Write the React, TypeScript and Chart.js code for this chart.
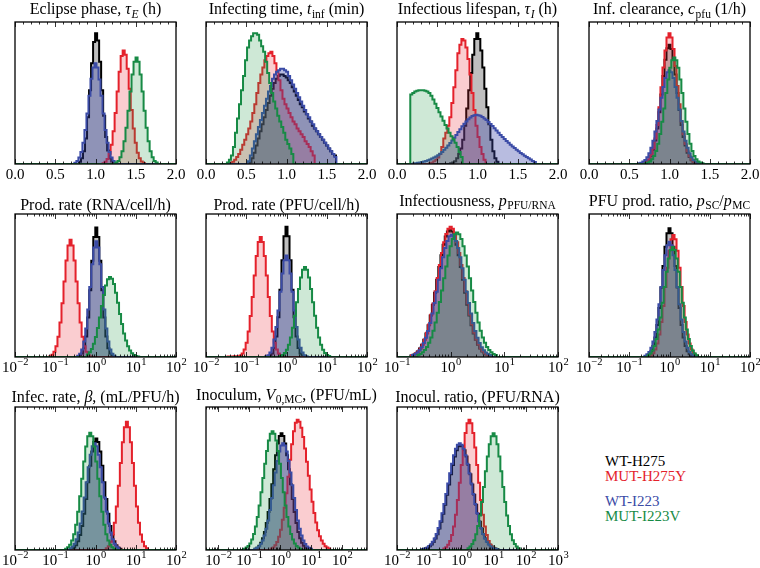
import React, { useEffect, useRef } from 'react';
import { Chart, registerables } from 'chart.js';
Chart.register(...registerables);

// ---------- series ----------
const SERIES = ['WT-H275', 'MUT-H275Y', 'WT-I223', 'MUT-I223V'];
const LINE_COLORS = ['#000000', '#e4212b', '#3b4ba6', '#178a45'];
const FILL_COLORS = ['rgba(0,0,0,0.25)', 'rgba(236,48,58,0.24)', 'rgba(58,70,168,0.36)', 'rgba(30,150,70,0.22)'];

// ---------- data (bin start per series, bin heights relative to panel height) ----------
// Eclipse phase (h), bins 0.025
const tauEStart = [0.795, 1.0875, 0.7375, 1.2475];
const tauE_WT275 = [0.015, 0.04, 0.09, 0.18, 0.33, 0.52, 0.71, 0.86, 0.92, 0.87, 0.72, 0.52, 0.34, 0.19, 0.095, 0.04, 0.017];
const tauE_MUT275 = [0.006, 0.015, 0.035, 0.072, 0.135, 0.23, 0.36, 0.51, 0.65, 0.76, 0.8, 0.77, 0.67, 0.53, 0.38, 0.25, 0.15, 0.08, 0.04, 0.018, 0.007];
const tauE_WT223 = [0.009, 0.021, 0.045, 0.085, 0.15, 0.24, 0.355, 0.48, 0.6, 0.68, 0.71, 0.68, 0.595, 0.48, 0.355, 0.24, 0.15, 0.085, 0.045, 0.021, 0.009];
const tauE_MUT223 = [0.01, 0.022, 0.047, 0.09, 0.16, 0.255, 0.375, 0.51, 0.63, 0.72, 0.75, 0.72, 0.63, 0.51, 0.375, 0.255, 0.16, 0.09, 0.047, 0.022, 0.01];

// Infecting time (min), bins 0.025
const tInfStart = [0.54, 0.3, 0.52, 0.26];
const tInf_WT275 = [0.01, 0.04, 0.08, 0.13, 0.18, 0.23, 0.28, 0.33, 0.38, 0.43, 0.48, 0.53, 0.57, 0.6, 0.62, 0.63, 0.63, 0.62, 0.61, 0.59, 0.57, 0.54, 0.51, 0.48, 0.45, 0.42, 0.4, 0.37, 0.35, 0.32, 0.3, 0.27, 0.25, 0.23, 0.21, 0.19, 0.17, 0.15, 0.13, 0.11, 0.09, 0.07, 0.06];
const tInf_MUT275 = [0.005, 0.015, 0.03, 0.05, 0.07, 0.1, 0.135, 0.17, 0.21, 0.25, 0.3, 0.36, 0.42, 0.5, 0.57, 0.63, 0.68, 0.73, 0.76, 0.78, 0.79, 0.76, 0.71, 0.65, 0.59, 0.52, 0.46, 0.42, 0.39, 0.36, 0.33, 0.3, 0.28, 0.25, 0.23, 0.21, 0.19, 0.16, 0.14, 0.12, 0.09, 0.06];
const tInf_WT223 = [0.02, 0.06, 0.11, 0.16, 0.21, 0.26, 0.31, 0.36, 0.41, 0.46, 0.51, 0.55, 0.6, 0.63, 0.65, 0.66, 0.67, 0.67, 0.66, 0.65, 0.62, 0.59, 0.56, 0.53, 0.5, 0.47, 0.44, 0.41, 0.38, 0.35, 0.33, 0.3, 0.28, 0.25, 0.23, 0.21, 0.19, 0.17, 0.15, 0.13, 0.11, 0.09, 0.07, 0.05];
const tInf_MUT223 = [0.01, 0.03, 0.06, 0.12, 0.22, 0.32, 0.42, 0.52, 0.62, 0.73, 0.82, 0.87, 0.9, 0.92, 0.92, 0.91, 0.87, 0.83, 0.79, 0.72, 0.64, 0.57, 0.5, 0.44, 0.39, 0.34, 0.3, 0.26, 0.22, 0.17, 0.14, 0.11, 0.07];

// Infectious lifespan (h), bins 0.025
const tauIStart = [0.66, 0.4, 0.2, 0.165];
const tauI_WT275 = [0.005, 0.01, 0.02, 0.04, 0.07, 0.11, 0.17, 0.27, 0.39, 0.52, 0.64, 0.77, 0.88, 0.92, 0.88, 0.8, 0.68, 0.53, 0.4, 0.28, 0.17, 0.09, 0.04, 0.015];
const tauI_MUT275 = [0.005, 0.01, 0.02, 0.03, 0.045, 0.07, 0.12, 0.18, 0.22, 0.27, 0.33, 0.43, 0.54, 0.66, 0.78, 0.84, 0.88, 0.87, 0.82, 0.74, 0.63, 0.5, 0.38, 0.27, 0.19, 0.12, 0.07, 0.03];
const tauI_WT223 = [0.003, 0.005, 0.008, 0.011, 0.014, 0.018, 0.022, 0.027, 0.032, 0.038, 0.045, 0.053, 0.062, 0.072, 0.085, 0.1, 0.115, 0.13, 0.148, 0.166, 0.185, 0.205, 0.225, 0.245, 0.265, 0.283, 0.3, 0.315, 0.328, 0.338, 0.344, 0.346, 0.344, 0.339, 0.331, 0.321, 0.309, 0.296, 0.282, 0.267, 0.252, 0.236, 0.22, 0.205, 0.19, 0.176, 0.162, 0.149, 0.136, 0.124, 0.112, 0.1, 0.089, 0.078, 0.068, 0.058, 0.049, 0.04, 0.031, 0.022, 0.014];
const tauI_MUT223 = [0.49, 0.5, 0.51, 0.515, 0.52, 0.52, 0.52, 0.515, 0.51, 0.5, 0.48, 0.455, 0.425, 0.395, 0.365, 0.335, 0.305, 0.275, 0.25, 0.22, 0.195, 0.175, 0.15, 0.12, 0.085, 0.05];

// Infectious clearance (1/h), bins 0.025
const cpfuStart = [0.6875, 0.6875, 0.6125, 0.6975];
const cpfu_WT275 = [0.006, 0.015, 0.03, 0.058, 0.1, 0.165, 0.25, 0.365, 0.49, 0.62, 0.735, 0.815, 0.84, 0.81, 0.74, 0.63, 0.5, 0.38, 0.275, 0.19, 0.13, 0.08, 0.05, 0.027, 0.014, 0.006];
const cpfu_MUT275 = [0.007, 0.017, 0.033, 0.063, 0.11, 0.18, 0.275, 0.4, 0.54, 0.68, 0.8, 0.89, 0.92, 0.89, 0.81, 0.69, 0.55, 0.42, 0.3, 0.21, 0.14, 0.09, 0.055, 0.03, 0.015, 0.007];
const cpfu_WT223 = [0.005, 0.009, 0.017, 0.029, 0.048, 0.076, 0.114, 0.164, 0.228, 0.302, 0.384, 0.467, 0.543, 0.605, 0.646, 0.66, 0.646, 0.605, 0.543, 0.467, 0.384, 0.302, 0.228, 0.164, 0.114, 0.076, 0.048, 0.029, 0.017, 0.009, 0.005];
const cpfu_MUT223 = [0.005, 0.01, 0.018, 0.033, 0.057, 0.092, 0.143, 0.212, 0.297, 0.39, 0.5, 0.595, 0.677, 0.73, 0.75, 0.73, 0.677, 0.595, 0.5, 0.39, 0.297, 0.212, 0.143, 0.092, 0.057, 0.033, 0.018, 0.01, 0.005];

// Production rate RNA/cell/h (log10), bins 0.05
const pRnaStart = [-0.405, -1.145, -0.455, -0.215];
const pRna_WT275 = [0.008, 0.024, 0.062, 0.143, 0.276, 0.467, 0.673, 0.84, 0.905, 0.84, 0.673, 0.467, 0.276, 0.143, 0.062, 0.024, 0.008];
const pRna_MUT275 = [0.006, 0.016, 0.036, 0.075, 0.141, 0.242, 0.376, 0.528, 0.675, 0.78, 0.82, 0.78, 0.675, 0.528, 0.376, 0.242, 0.141, 0.075, 0.036, 0.016, 0.006];
const pRna_WT223 = [0.009, 0.023, 0.053, 0.109, 0.2, 0.333, 0.49, 0.648, 0.766, 0.81, 0.766, 0.648, 0.49, 0.333, 0.2, 0.109, 0.053, 0.023, 0.009];
const pRna_MUT223 = [0.018, 0.033, 0.056, 0.092, 0.139, 0.202, 0.276, 0.356, 0.434, 0.5, 0.544, 0.56, 0.548, 0.51, 0.45, 0.38, 0.3, 0.23, 0.165, 0.115, 0.075, 0.045, 0.026, 0.014, 0.007, 0.003];

// Production rate PFU/cell/h (log10), bins 0.05
const pPfuStart = [-0.425, -1.465, -0.525, -0.165];
const pPfu_WT275 = [0.008, 0.025, 0.063, 0.144, 0.278, 0.47, 0.677, 0.845, 0.91, 0.845, 0.677, 0.47, 0.278, 0.144, 0.063, 0.025, 0.008];
const pPfu_MUT275 = [0.003, 0.004, 0.004, 0.005, 0.005, 0.006, 0.011, 0.025, 0.053, 0.1, 0.178, 0.286, 0.42, 0.57, 0.706, 0.805, 0.84, 0.805, 0.706, 0.57, 0.42, 0.286, 0.178, 0.1, 0.053, 0.025, 0.011];
const pPfu_WT223 = [0.005, 0.013, 0.031, 0.065, 0.122, 0.21, 0.325, 0.457, 0.584, 0.676, 0.71, 0.676, 0.584, 0.457, 0.325, 0.21, 0.122, 0.065, 0.031, 0.013, 0.005];
const pPfu_MUT223 = [0.007, 0.014, 0.028, 0.05, 0.085, 0.136, 0.205, 0.289, 0.382, 0.476, 0.556, 0.61, 0.63, 0.61, 0.556, 0.476, 0.382, 0.289, 0.205, 0.136, 0.085, 0.05, 0.028, 0.014, 0.007];

// Infectiousness PFU/RNA (log10), bins 0.04
const infStart = [-0.75, -0.74, -0.72, -0.62];
const inf_WT275 = [0.01, 0.016, 0.025, 0.039, 0.059, 0.085, 0.12, 0.165, 0.222, 0.29, 0.366, 0.45, 0.54, 0.629, 0.712, 0.785, 0.842, 0.877, 0.89, 0.877, 0.842, 0.785, 0.712, 0.629, 0.54, 0.45, 0.366, 0.29, 0.222, 0.165, 0.12, 0.085, 0.059, 0.039, 0.025, 0.016, 0.01];
const inf_MUT275 = [0.01, 0.016, 0.026, 0.04, 0.06, 0.087, 0.123, 0.169, 0.227, 0.296, 0.374, 0.46, 0.552, 0.643, 0.728, 0.803, 0.861, 0.897, 0.91, 0.897, 0.861, 0.803, 0.728, 0.643, 0.552, 0.46, 0.374, 0.296, 0.227, 0.169, 0.123, 0.087, 0.06, 0.04, 0.026, 0.016, 0.01];
const inf_WT223 = [0.014, 0.021, 0.032, 0.048, 0.069, 0.098, 0.135, 0.181, 0.238, 0.304, 0.377, 0.457, 0.54, 0.621, 0.697, 0.762, 0.812, 0.844, 0.855, 0.844, 0.812, 0.762, 0.697, 0.621, 0.54, 0.457, 0.377, 0.304, 0.238, 0.181, 0.135, 0.098, 0.069, 0.048, 0.032, 0.021, 0.014];
const inf_MUT223 = [0.014, 0.021, 0.033, 0.049, 0.07, 0.1, 0.137, 0.184, 0.242, 0.309, 0.384, 0.465, 0.55, 0.632, 0.709, 0.775, 0.826, 0.859, 0.87, 0.859, 0.826, 0.775, 0.709, 0.632, 0.55, 0.465, 0.384, 0.309, 0.242, 0.184, 0.137, 0.1, 0.07, 0.049, 0.033, 0.021, 0.014];

// PFU production ratio SC/MC (log10), bins 0.05
const ratioStart = [-0.575, -0.475, -0.625, -0.545];
const ratio_WT275 = [0.008, 0.019, 0.04, 0.077, 0.136, 0.224, 0.343, 0.486, 0.636, 0.771, 0.866, 0.9, 0.866, 0.771, 0.636, 0.486, 0.343, 0.224, 0.136, 0.077, 0.04, 0.019, 0.008];
const ratio_MUT275 = [0.013, 0.026, 0.052, 0.094, 0.157, 0.245, 0.357, 0.49, 0.624, 0.743, 0.824, 0.853, 0.824, 0.743, 0.624, 0.49, 0.357, 0.245, 0.157, 0.094, 0.052, 0.026, 0.013];
const ratio_WT223 = [0.009, 0.019, 0.035, 0.064, 0.109, 0.174, 0.262, 0.369, 0.489, 0.609, 0.711, 0.781, 0.806, 0.781, 0.711, 0.609, 0.489, 0.369, 0.262, 0.174, 0.109, 0.064, 0.035, 0.019, 0.009];
const ratio_MUT223 = [0.013, 0.025, 0.045, 0.077, 0.126, 0.192, 0.277, 0.38, 0.49, 0.597, 0.688, 0.748, 0.77, 0.748, 0.688, 0.597, 0.49, 0.38, 0.277, 0.192, 0.126, 0.077, 0.045, 0.025, 0.013];

// Infection rate beta (log10), bins 0.05
const betaStart = [-0.605, 0.255, -0.645, -0.755];
const beta_WT275 = [0.009, 0.018, 0.034, 0.062, 0.105, 0.168, 0.254, 0.357, 0.473, 0.589, 0.688, 0.756, 0.78, 0.756, 0.688, 0.589, 0.473, 0.357, 0.254, 0.168, 0.105, 0.062, 0.034, 0.018, 0.009];
const beta_MUT275 = [0.012, 0.027, 0.057, 0.108, 0.19, 0.305, 0.449, 0.608, 0.754, 0.859, 0.897, 0.859, 0.754, 0.608, 0.449, 0.305, 0.19, 0.108, 0.057, 0.027, 0.012];
const beta_WT223 = [0.013, 0.024, 0.044, 0.075, 0.122, 0.186, 0.269, 0.368, 0.474, 0.578, 0.666, 0.725, 0.746, 0.725, 0.666, 0.578, 0.474, 0.368, 0.269, 0.186, 0.122, 0.075, 0.044, 0.024, 0.013];
const beta_MUT223 = [0.009, 0.019, 0.036, 0.066, 0.111, 0.177, 0.267, 0.376, 0.498, 0.619, 0.723, 0.795, 0.82, 0.795, 0.723, 0.619, 0.498, 0.376, 0.267, 0.177, 0.111, 0.066, 0.036, 0.019, 0.009];

// Inoculum V0,MC (log10), bins 0.06
const v0Start = [-0.83, -0.31, -0.84, -1.18];
const v0_WT275 = [0.009, 0.016, 0.03, 0.051, 0.082, 0.126, 0.189, 0.265, 0.356, 0.46, 0.565, 0.663, 0.744, 0.797, 0.816, 0.797, 0.744, 0.663, 0.565, 0.46, 0.356, 0.265, 0.189, 0.126, 0.082, 0.051, 0.03, 0.016, 0.009];
const v0_MUT275 = [0.01, 0.018, 0.034, 0.056, 0.092, 0.141, 0.211, 0.296, 0.397, 0.513, 0.631, 0.74, 0.83, 0.889, 0.91, 0.896, 0.855, 0.791, 0.71, 0.617, 0.519, 0.423, 0.337, 0.258, 0.193, 0.138, 0.096, 0.066, 0.043, 0.027, 0.017, 0.01];
const v0_WT223 = [0.008, 0.015, 0.025, 0.042, 0.066, 0.101, 0.148, 0.207, 0.28, 0.363, 0.453, 0.542, 0.623, 0.689, 0.731, 0.746, 0.731, 0.689, 0.623, 0.542, 0.453, 0.363, 0.28, 0.207, 0.148, 0.101, 0.066, 0.042, 0.025, 0.015, 0.008];
const v0_MUT223 = [0.009, 0.017, 0.028, 0.046, 0.074, 0.112, 0.164, 0.231, 0.311, 0.404, 0.504, 0.603, 0.693, 0.766, 0.813, 0.83, 0.813, 0.766, 0.693, 0.603, 0.504, 0.404, 0.311, 0.231, 0.164, 0.112, 0.074, 0.046, 0.028, 0.017, 0.009];

// Inoculum ratio PFU/RNA (log10), bins 0.06
const inocStart = [-1.19, -0.56, -1.22, 0.19];
const inoc_WT275 = [0.007, 0.01, 0.016, 0.026, 0.038, 0.056, 0.08, 0.11, 0.151, 0.198, 0.253, 0.317, 0.386, 0.458, 0.529, 0.595, 0.653, 0.698, 0.725, 0.735, 0.725, 0.698, 0.653, 0.595, 0.529, 0.458, 0.386, 0.317, 0.253, 0.198, 0.151, 0.11, 0.08, 0.056, 0.038, 0.026, 0.016, 0.01, 0.007];
const inoc_MUT275 = [0.01, 0.02, 0.036, 0.063, 0.105, 0.164, 0.246, 0.35, 0.47, 0.594, 0.716, 0.818, 0.886, 0.91, 0.886, 0.818, 0.716, 0.594, 0.47, 0.35, 0.246, 0.164, 0.105, 0.063, 0.036, 0.02, 0.01];
const inoc_WT223 = [0.007, 0.01, 0.016, 0.026, 0.039, 0.057, 0.081, 0.112, 0.153, 0.201, 0.257, 0.322, 0.392, 0.465, 0.537, 0.604, 0.663, 0.708, 0.736, 0.746, 0.736, 0.708, 0.663, 0.604, 0.537, 0.465, 0.392, 0.322, 0.257, 0.201, 0.153, 0.112, 0.081, 0.057, 0.039, 0.026, 0.016, 0.01, 0.007];
const inoc_MUT223 = [0.012, 0.024, 0.042, 0.069, 0.11, 0.167, 0.242, 0.335, 0.441, 0.55, 0.653, 0.739, 0.796, 0.816, 0.796, 0.739, 0.653, 0.55, 0.441, 0.335, 0.242, 0.167, 0.11, 0.069, 0.042, 0.024, 0.012];

// ---------- layout ----------
type Seg = { t: string; i?: boolean; s?: boolean };
type PanelCfg = {
  title: Seg[];
  titleGap: number;
  col: number;
  row: number;
  xmin: number;
  xmax: number;
  log: boolean;
  bw: number;
  starts: number[];
  series: number[][];
};

const LEFTS = [15, 206, 397, 589];
const TOPS = [22, 214, 407];
const HEIGHTS = [142, 143, 143];
const BOX_W = 161;
const PL = 24, PR = 24, PT = 22, PB = 24;
const FONT = '"Liberation Serif", "DejaVu Serif", serif';

const PANELS: PanelCfg[] = [
  { title: [{ t: 'Eclipse phase, ' }, { t: 'τ', i: true }, { t: 'E', i: true, s: true }, { t: ' (h)' }], titleGap: 8, col: 0, row: 0, xmin: 0, xmax: 2, log: false, bw: 0.025, starts: tauEStart, series: [tauE_WT275, tauE_MUT275, tauE_WT223, tauE_MUT223] },
  { title: [{ t: 'Infecting time, ' }, { t: 't', i: true }, { t: 'inf', s: true }, { t: ' (min)' }], titleGap: 8, col: 1, row: 0, xmin: 0, xmax: 2, log: false, bw: 0.025, starts: tInfStart, series: [tInf_WT275, tInf_MUT275, tInf_WT223, tInf_MUT223] },
  { title: [{ t: 'Infectious lifespan, ' }, { t: 'τ', i: true }, { t: 'I', i: true, s: true }, { t: ' (h)' }], titleGap: 8, col: 2, row: 0, xmin: 0, xmax: 2, log: false, bw: 0.025, starts: tauIStart, series: [tauI_WT275, tauI_MUT275, tauI_WT223, tauI_MUT223] },
  { title: [{ t: 'Inf. clearance, ' }, { t: 'c', i: true }, { t: 'pfu', s: true }, { t: ' (1/h)' }], titleGap: 8, col: 3, row: 0, xmin: 0, xmax: 2, log: false, bw: 0.025, starts: cpfuStart, series: [cpfu_WT275, cpfu_MUT275, cpfu_WT223, cpfu_MUT223] },
  { title: [{ t: 'Prod. rate (RNA/cell/h)' }], titleGap: 4.5, col: 0, row: 1, xmin: -2, xmax: 2, log: true, bw: 0.05, starts: pRnaStart, series: [pRna_WT275, pRna_MUT275, pRna_WT223, pRna_MUT223] },
  { title: [{ t: 'Prod. rate (PFU/cell/h)' }], titleGap: 4.5, col: 1, row: 1, xmin: -2, xmax: 2, log: true, bw: 0.05, starts: pPfuStart, series: [pPfu_WT275, pPfu_MUT275, pPfu_WT223, pPfu_MUT223] },
  { title: [{ t: 'Infectiousness, ' }, { t: 'p', i: true }, { t: 'PFU/RNA', s: true }], titleGap: 8.5, col: 2, row: 1, xmin: -1, xmax: 2, log: true, bw: 0.04, starts: infStart, series: [inf_WT275, inf_MUT275, inf_WT223, inf_MUT223] },
  { title: [{ t: 'PFU prod. ratio, ' }, { t: 'p', i: true }, { t: 'SC', s: true }, { t: '/' }, { t: 'p', i: true }, { t: 'MC', s: true }], titleGap: 8.5, col: 3, row: 1, xmin: -2, xmax: 2, log: true, bw: 0.05, starts: ratioStart, series: [ratio_WT275, ratio_MUT275, ratio_WT223, ratio_MUT223] },
  { title: [{ t: 'Infec. rate, ' }, { t: 'β', i: true }, { t: ', (mL/PFU/h)' }], titleGap: 5.5, col: 0, row: 2, xmin: -2, xmax: 2, log: true, bw: 0.05, starts: betaStart, series: [beta_WT275, beta_MUT275, beta_WT223, beta_MUT223] },
  { title: [{ t: 'Inoculum, ' }, { t: 'V', i: true }, { t: '0,MC', s: true }, { t: ', (PFU/mL)' }], titleGap: 7.5, col: 1, row: 2, xmin: -2.4, xmax: 2.8, log: true, bw: 0.06, starts: v0Start, series: [v0_WT275, v0_MUT275, v0_WT223, v0_MUT223] },
  { title: [{ t: 'Inocul. ratio, (PFU/RNA)' }], titleGap: 5.5, col: 2, row: 2, xmin: -2, xmax: 3, log: true, bw: 0.06, starts: inocStart, series: [inoc_WT275, inoc_MUT275, inoc_WT223, inoc_MUT223] },
];

function hist(x0: number, w: number, h: number[], min: number, max: number) {
  const pts: { x: number; y: number }[] = [{ x: min, y: 0 }];
  h.forEach((v, i) => pts.push({ x: x0 + i * w, y: v }));
  pts.push({ x: x0 + h.length * w, y: 0 });
  pts.push({ x: max, y: 0 });
  return pts;
}

function decoPlugin(p: PanelCfg) {
  return {
    id: 'deco',
    afterDatasetsDraw(chart: any) {
      const { ctx, chartArea: a } = chart;
      const x = chart.scales.x;
      ctx.save();
      ctx.strokeStyle = '#000';
      ctx.lineWidth = 0.8;
      const tick = (v: number, len: number) => {
        if (v < p.xmin - 1e-9 || v > p.xmax + 1e-9) return;
        const px = Math.round(x.getPixelForValue(v)) + 0.5;
        ctx.beginPath();
        ctx.moveTo(px, a.bottom);
        ctx.lineTo(px, a.bottom - len);
        ctx.moveTo(px, a.top);
        ctx.lineTo(px, a.top + len);
        ctx.stroke();
      };
      const majors: number[] = [];
      if (!p.log) {
        for (let i = 0; i <= 20; i++) tick(i * 0.1, i % 5 === 0 ? 5 : 2.5);
        for (let i = 0; i <= 4; i++) majors.push(i * 0.5);
      } else {
        for (let d = Math.floor(p.xmin); d <= Math.ceil(p.xmax); d++) {
          tick(d, 5);
          if (d >= p.xmin - 1e-9 && d <= p.xmax + 1e-9) majors.push(d);
          for (let k = 2; k <= 9; k++) tick(d + Math.log10(k), 2.5);
        }
      }
      ctx.lineWidth = 1.3;
      ctx.strokeRect(a.left, a.top, a.right - a.left, a.bottom - a.top);

      // tick labels
      ctx.fillStyle = '#000';
      ctx.textBaseline = 'alphabetic';
      ctx.textAlign = 'left';
      const yb = a.bottom + 14.5;
      majors.forEach((v) => {
        const px = x.getPixelForValue(v);
        if (!p.log) {
          ctx.font = `15px ${FONT}`;
          const s = v.toFixed(1);
          const w = ctx.measureText(s).width;
          ctx.fillText(s, px - w / 2, yb);
        } else {
          ctx.font = `15px ${FONT}`;
          const base = '10';
          const wb = ctx.measureText(base).width;
          const ex = v < 0 ? '−' + Math.abs(v) : String(v);
          ctx.font = `10.5px ${FONT}`;
          const we = ctx.measureText(ex).width;
          const x0 = px - (wb + we) / 2;
          ctx.font = `15px ${FONT}`;
          ctx.fillText(base, x0, yb);
          ctx.font = `10.5px ${FONT}`;
          ctx.fillText(ex, x0 + wb + 0.5, yb - 6.5);
        }
      });

      // title
      const fontOf = (sg: Seg) => `${sg.i ? 'italic ' : ''}${sg.s ? 11.5 : 16}px ${FONT}`;
      let total = 0;
      p.title.forEach((sg) => {
        ctx.font = fontOf(sg);
        total += ctx.measureText(sg.t).width + (sg.s ? 0.5 : 0);
      });
      let cx = (a.left + a.right) / 2 - total / 2;
      const ty = a.top - p.titleGap;
      p.title.forEach((sg) => {
        ctx.font = fontOf(sg);
        ctx.fillText(sg.t, cx + (sg.s ? 0.5 : 0), sg.s ? ty + 3.5 : ty);
        cx += ctx.measureText(sg.t).width + (sg.s ? 0.5 : 0);
      });
      ctx.restore();
    },
  };
}

function Panel({ p }: { p: PanelCfg }) {
  const ref = useRef<HTMLCanvasElement>(null);
  const h = HEIGHTS[p.row];
  const cw = BOX_W + PL + PR;
  const ch = h + PT + PB;
  useEffect(() => {
    const datasets = p.series.map((s, k) => ({
      label: SERIES[k],
      data: hist(p.starts[k], p.bw, s, p.xmin, p.xmax),
      borderColor: LINE_COLORS[k],
      backgroundColor: FILL_COLORS[k],
      borderWidth: 2,
      fill: 'origin',
      stepped: true,
      pointRadius: 0,
      order: 4 - k,
    }));
    const chart = new Chart(ref.current as HTMLCanvasElement, {
      type: 'line',
      data: { datasets } as any,
      options: {
        animation: false,
        responsive: false,
        events: [],
        layout: { padding: { left: PL, right: PR, top: PT, bottom: PB } },
        plugins: { legend: { display: false }, tooltip: { enabled: false }, title: { display: false } },
        scales: {
          x: { type: 'linear', min: p.xmin, max: p.xmax, display: false },
          y: { type: 'linear', min: 0, max: 1, display: false },
        },
      } as any,
      plugins: [decoPlugin(p)],
    });
    return () => chart.destroy();
  }, [p]);
  return (
    <canvas
      ref={ref}
      width={cw}
      height={ch}
      style={{ position: 'absolute', left: LEFTS[p.col] - PL, top: TOPS[p.row] - PT, width: cw, height: ch }}
    />
  );
}

const LEGEND_BASELINES = [467, 482, 507, 522];

export default function App() {
  return (
    <div style={{ position: 'absolute', left: 0, top: 0, width: 760, height: 568, background: '#fff', overflow: 'hidden' }}>
      {PANELS.map((p, i) => (
        <Panel key={i} p={p} />
      ))}
      {SERIES.map((s, k) => (
        <div
          key={s}
          style={{
            position: 'absolute',
            left: 605,
            top: LEGEND_BASELINES[k] - 12.6,
            fontFamily: FONT,
            fontSize: 15,
            lineHeight: '15px',
            color: LINE_COLORS[k],
            whiteSpace: 'nowrap',
          }}
        >
          {s}
        </div>
      ))}
    </div>
  );
}
